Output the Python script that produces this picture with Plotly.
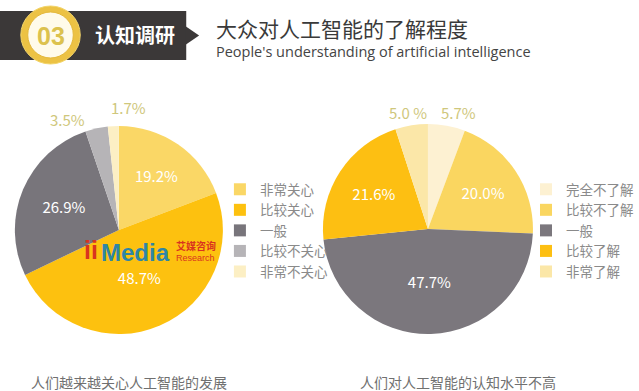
import plotly.graph_objects as go

W, H = 639, 391

# ---------------- data ----------------
left_labels = ["非常关心", "比较关心", "一般", "比较不关心", "非常不关心"]
left_values = [19.2, 48.7, 26.9, 3.5, 1.7]
left_colors = ["#FAD766", "#FDC10F", "#78757B", "#B6B4B7", "#FCEFC4"]
left_inside = [True, True, True, False, False]

# zero-width space keeps the right "一般" entry distinct from the left one in the legends
right_labels = ["完全不了解", "比较不了解", "一般\u200b", "比较了解", "非常了解"]
right_values = [5.7, 20.0, 47.7, 21.6, 5.0]
right_text = ["5.7%", "20.0%", "47.7%", "21.6%", "5.0 %"]
right_colors = ["#FDF1D2", "#FAD660", "#7B777D", "#FDBF12", "#FBE7A8"]
right_inside = [False, True, True, True, False]

title_cn = "大众对人工智能的了解程度"
title_en = "People's understanding of artificial intelligence"
badge_num = "03"
badge_text = "认知调研"
caption_left = "人们越来越关心人工智能的发展"
caption_right = "人们对人工智能的认知水平不高"

CJK = "Noto Sans CJK SC, Noto Sans, sans-serif"
OUT_COLOR = "#CFC77C"


def px(x):
    return x / W


def py(y):
    return 1 - y / H


left_text = [f"{v:.1f}%" for v in left_values]

fig = go.Figure()

fig.add_trace(go.Pie(
    labels=left_labels, values=left_values,
    text=[t if ins else "" for t, ins in zip(left_text, left_inside)],
    textinfo="text", textposition="inside", insidetextorientation="horizontal",
    sort=False, direction="clockwise", rotation=0,
    marker=dict(colors=left_colors, line=dict(color="white", width=0)),
    insidetextfont=dict(color="white", size=15, family=CJK),
    domain=dict(x=[px(15), px(225)], y=[py(335), py(125)]),
    legend="legend", hoverinfo="label+percent",
))

fig.add_trace(go.Pie(
    labels=right_labels, values=right_values,
    text=[t if ins else "" for t, ins in zip(right_text, right_inside)],
    textinfo="text", textposition="inside", insidetextorientation="horizontal",
    sort=False, direction="clockwise", rotation=0,
    marker=dict(colors=right_colors, line=dict(color="white", width=0)),
    insidetextfont=dict(color="white", size=15, family=CJK),
    domain=dict(x=[px(326), px(538)], y=[py(335), py(123)]),
    legend="legend2", hoverinfo="label+percent",
))

legend_style = dict(font=dict(size=13.5, color="#8A8A8A", family=CJK),
                    bgcolor="rgba(0,0,0,0)", itemwidth=30,
                    xanchor="left", yanchor="top", tracegroupgap=0)

shapes = [
    # dark bar
    dict(type="rect", xref="paper", yref="paper", x0=px(0), x1=px(188),
         y0=py(60), y1=py(11), fillcolor="#3B3838", line=dict(width=0)),
    # arrow
    dict(type="path", xref="paper", yref="paper",
         path=f"M {px(187)},{py(26)} L {px(201)},{py(35.5)} L {px(187)},{py(45)} Z",
         fillcolor="#3B3838", line=dict(width=0)),
    # gold ring
    dict(type="circle", xref="paper", yref="paper",
         x0=px(51 - 30), x1=px(51 + 30), y0=py(35 + 29), y1=py(35 - 29),
         fillcolor="#ECC244", line=dict(color="#F3D56A", width=1)),
    dict(type="circle", xref="paper", yref="paper",
         x0=px(51 - 23), x1=px(51 + 23), y0=py(35 + 23), y1=py(35 - 23),
         fillcolor="#FFFBEA", line=dict(color="#E4B83A", width=1)),
]


def ann(text, x, y, size, color, family=CJK, anchor="center"):
    return dict(text=text, x=px(x), y=py(y), xref="paper", yref="paper",
                showarrow=False, font=dict(size=size, color=color, family=family),
                xanchor=anchor, yanchor="middle")


annotations = [
    ann(f"<b>{badge_num}</b>", 51, 36, 25, "#DCC24E", "Liberation Sans, Arial"),
    ann(f"<b>{badge_text}</b>", 136, 35, 20, "white"),
    ann(title_cn, 216, 28, 21, "#3A3A3A", anchor="left"),
    ann(title_en, 216, 51, 14.5, "#444444", "Open Sans, Noto Sans, sans-serif", anchor="left"),
    ann(caption_left, 130, 382, 14, "#707070"),
    ann(caption_right, 462, 382, 14, "#707070"),
    # small-slice labels placed outside the pies, above them
    ann(left_text[3], 68, 119, 15, OUT_COLOR),
    ann(left_text[4], 130, 108, 15, OUT_COLOR),
    ann(right_text[4], 412, 112, 15, OUT_COLOR),
    ann(right_text[0], 463, 112, 15, OUT_COLOR),
    # watermark logo
    ann("<b>ii</b>", 92, 250, 25, "#D9341F", "Liberation Sans, Arial"),
    ann("<b>Media</b>", 100, 252, 24, "#2E86A6", "Liberation Sans, Arial", anchor="left"),
    ann("<b>艾媒咨询</b>", 176, 246, 10, "#D9341F", anchor="left"),
    ann("Research", 176, 258, 9, "#D9341F", "Liberation Sans, Arial", anchor="left"),
]

fig.update_layout(
    width=W, height=H,
    margin=dict(l=0, r=0, t=0, b=0),
    paper_bgcolor="white", plot_bgcolor="white",
    legend=dict(x=px(222), y=py(174), **legend_style),
    legend2=dict(x=px(531), y=py(174), **legend_style),
    shapes=shapes, annotations=annotations,
    showlegend=True,
)

fig.write_html("out.html",
               config={"displayModeBar": False},
               post_script="document.body.style.margin='0';document.body.style.overflow='hidden';")
